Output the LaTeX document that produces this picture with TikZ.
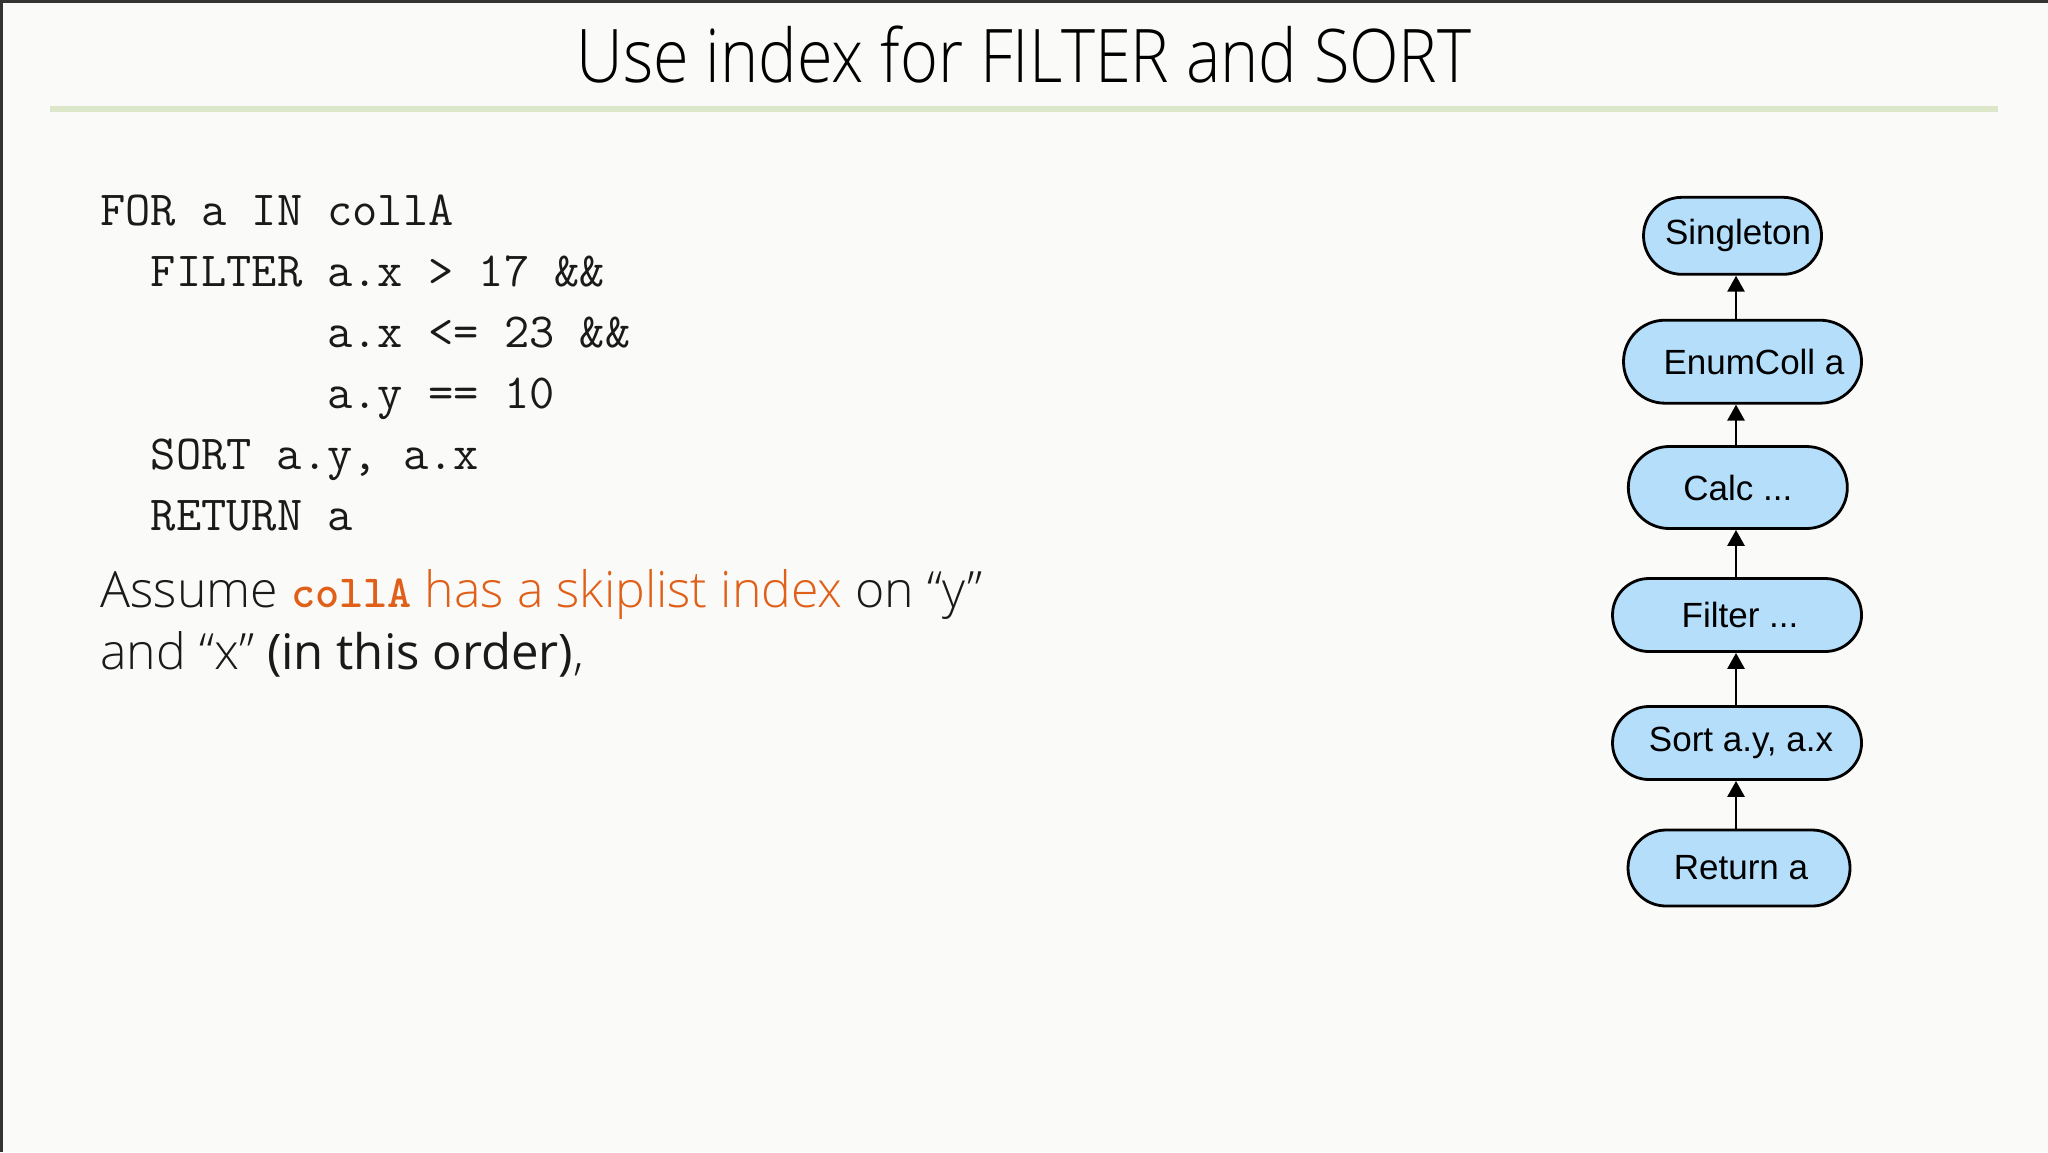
\documentclass[tikz,border=0pt]{standalone}
\usepackage{fontspec}
\usetikzlibrary{arrows.meta}
\newfontfamily\oslight{Open Sans Light}
\newfontfamily\oslightc{Open Sans Light}[FakeStretch=0.876]
\newfontfamily\osreg{Open Sans}
\newfontfamily\arialf{Liberation Sans}
\definecolor{bgc}{HTML}{FAFBF8}
\definecolor{edgec}{HTML}{333333}
\definecolor{rulec}{HTML}{DCE6C8}
\definecolor{orng}{HTML}{E0601A}
\definecolor{blkfill}{HTML}{B4DEFA}
\definecolor{txt}{HTML}{1A1A1A}
\begin{document}
\begin{tikzpicture}[x=0.5pt,y=-0.5pt,
  codeline/.style={anchor=base west,inner sep=0,font=\ttfamily\fontsize{24.5}{28}\selectfont,text=txt},
  bodyline/.style={anchor=base west,inner sep=0,font=\oslight\fontsize{25}{30}\selectfont,text=txt},
  blk/.style={draw=black,line width=1.4pt,fill=blkfill,rectangle,inner sep=0pt,
     font=\arialf\fontsize{17.5}{20}\selectfont,text=black},
  arr/.style={line width=1.4pt,-{Triangle[length=8pt,width=8.5pt]}}]
\useasboundingbox (0,0) rectangle (2048,1152);
\fill[bgc] (0,0) rectangle (2048,1152);
\fill[edgec] (0,0) rectangle (2048,3);
\fill[edgec] (0,0) rectangle (3,1152);
% title
\node[anchor=base,inner sep=0,font=\oslightc\fontsize{37}{44}\selectfont,text=black] (title) at (1024,82) {Use index for FILTER and SORT};
\fill[rulec] (50,106) rectangle (1998,112);
% code
\node[codeline] (c1) at (100,225) {FOR a IN collA};
\node[codeline] (c2) at (100,286) {\ \ FILTER a.x > 17 \&\&};
\node[codeline] (c3) at (100,347) {\ \ \ \ \ \ \ \ \ a.x <= 23 \&\&};
\node[codeline] (c4) at (100,408) {\ \ \ \ \ \ \ \ \ a.y == 10};
\node[codeline] (c5) at (100,469) {\ \ SORT a.y, a.x};
\node[codeline] (c6) at (100,530) {\ \ RETURN a};
% body text
\node[bodyline] (b1) at (100,607) {Assume {\color{orng}{\ttfamily\bfseries\fontsize{23}{28}\selectfont collA} has a skiplist index} on “y”};
\node[bodyline] (b2) at (100,669) {and “x” {\osreg\fontsize{24.5}{30}\selectfont (in this order)},};
% plan nodes
\coordinate (ax) at (1736,0);
\node[blk,minimum width=89pt,minimum height=38.5pt,rounded corners=19.2pt] (single) at (1732.5,235.8) {\hspace*{5.5pt}Singleton};
\node[blk,minimum width=119pt,minimum height=41.5pt,rounded corners=20.7pt] (enum) at (1742.5,361.7) {\hspace*{11.5pt}EnumColl a};
\node[blk,minimum width=109.5pt,minimum height=41pt,rounded corners=20.45pt] (calc) at (1737.8,487.5) {Calc ...};
\node[blk,minimum width=124.5pt,minimum height=36.5pt,rounded corners=18.2pt] (filter) at (1737,615) {\hspace*{3pt}Filter ...};
\node[blk,minimum width=124.5pt,minimum height=36.5pt,rounded corners=18.2pt] (sort) at (1737,743) {\hspace*{4pt}Sort a.y, a.x};
\node[blk,minimum width=111pt,minimum height=38pt,rounded corners=18.95pt] (ret) at (1739,868) {\hspace*{2pt}Return a};
\draw[arr] (ret.north -| ax) -- (sort.south -| ax);
\draw[arr] (sort.north -| ax) -- (filter.south -| ax);
\draw[arr] (filter.north -| ax) -- (calc.south -| ax);
\draw[arr] (calc.north -| ax) -- (enum.south -| ax);
\draw[arr] (enum.north -| ax) -- (single.south -| ax);
\end{tikzpicture}
\end{document}
